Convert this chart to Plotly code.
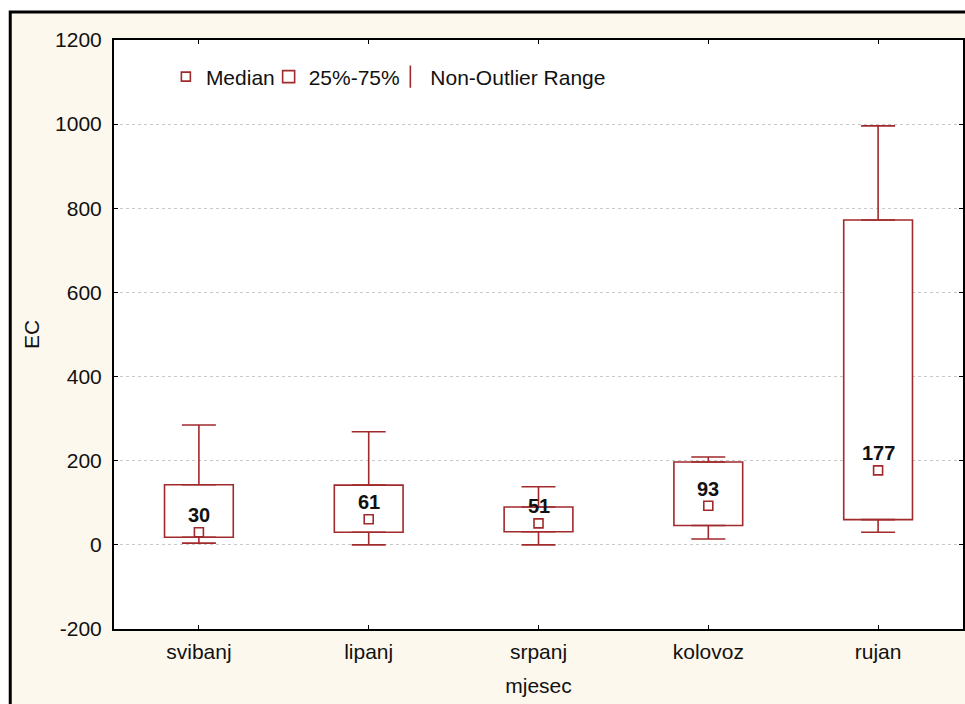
import plotly.graph_objects as go

# ---- data ----
months = ["svibanj", "lipanj", "srpanj", "kolovoz", "rujan"]
medians = [30, 61, 51, 93, 177]
q1 = [18, 30, 31, 46, 60]
q3 = [143, 142, 90, 197, 772]
whisk_low = [4, 0, 0, 14, 30]
whisk_high = [285, 269, 138, 209, 996]
y_ticks = [-200, 0, 200, 400, 600, 800, 1000, 1200]
y_tick_text = ["-200", "0", "200", "400", "600", "800", "1000", "1200"]

RED = "#A12A2C"
CREAM = "#FDF8EE"
FONT = "Arial, Liberation Sans, sans-serif"
TXT = "#111111"
FS = 21

box_height = [h - l for h, l in zip(q3, q1)]
up_err = [h - t for h, t in zip(whisk_high, q3)]
down_err = [b - l for b, l in zip(q1, whisk_low)]

fig = go.Figure()

# upper whiskers (from box top to upper non-outlier limit)
fig.add_trace(go.Scatter(
    x=months, y=q3, mode="markers",
    marker=dict(size=1, color="rgba(0,0,0,0)"),
    error_y=dict(type="data", symmetric=False, array=up_err,
                 arrayminus=[0] * len(months), color=RED, thickness=1.6, width=17),
    showlegend=False, hoverinfo="skip"))
# lower whiskers
fig.add_trace(go.Scatter(
    x=months, y=q1, mode="markers",
    marker=dict(size=1, color="rgba(0,0,0,0)"),
    error_y=dict(type="data", symmetric=False, array=[0] * len(months),
                 arrayminus=down_err, color=RED, thickness=1.6, width=17),
    showlegend=False, hoverinfo="skip"))

# boxes 25%-75%
fig.add_trace(go.Bar(
    x=months, y=box_height, base=q1, width=0.405,
    marker=dict(color="white", line=dict(color=RED, width=1.6)),
    name="25%-75%", legend="legend2"))

# medians
fig.add_trace(go.Scatter(
    x=months, y=medians, mode="markers",
    marker=dict(symbol="square-open", size=9, color=RED, line=dict(width=1.6)),
    name="Median", legend="legend"))

# legend-only entry for whiskers
fig.add_trace(go.Scatter(
    x=[None], y=[None], mode="markers",
    marker=dict(symbol="line-ns-open", size=16, color=RED, line=dict(width=1.6, color=RED)),
    name="Non-Outlier Range", legend="legend3"))

# median value labels
for m, v in zip(months, medians):
    fig.add_annotation(
        x=m, y=v, text=str(v), showarrow=False,
        xanchor="center", yanchor="bottom", yshift=4,
        font=dict(family=FONT, size=20, color=TXT, weight="bold"))

W, H = 965, 704
L, R, T, B = 114, 0, 40, 75
pw = W - L - R
ph = H - T - B


def legend_at(px_left):
    return dict(orientation="h", x=(px_left - L) / pw, xanchor="left",
                y=(H - B - 77) / ph, yanchor="middle",
                bgcolor="rgba(0,0,0,0)", font=dict(family=FONT, size=FS, color=TXT),
                itemwidth=30)


fig.update_layout(
    width=W, height=H,
    margin=dict(l=L, r=R, t=T, b=B, pad=0),
    paper_bgcolor="white", plot_bgcolor="white",
    font=dict(family=FONT, size=FS, color=TXT),
    barmode="overlay",
    showlegend=True,
    legend=legend_at(166),
    legend2=legend_at(269),
    legend3=legend_at(391),
    shapes=[
        # cream page with black frame
        dict(type="rect", xref="paper", yref="paper",
             x0=(10 - L) / pw, x1=1.2, y0=-0.3, y1=(H - B - 12) / ph,
             fillcolor=CREAM, line=dict(color="black", width=3), layer="below"),
        # white plot area
        dict(type="rect", xref="paper", yref="paper",
             x0=0, x1=1, y0=0, y1=1,
             fillcolor="white", line=dict(width=0), layer="below"),
    ],
)

fig.update_xaxes(
    type="category", range=[-0.5, 4.5],
    showline=True, linecolor="black", linewidth=2, mirror="ticks",
    ticks="inside", ticklen=4, tickcolor="black",
    showgrid=False, zeroline=False,
    ticklabelstandoff=3,
    tickfont=dict(family=FONT, size=FS, color=TXT),
    title=dict(text="mjesec", font=dict(family=FONT, size=FS, color=TXT), standoff=16),
)
fig.update_yaxes(
    range=[-200, 1200], tickvals=y_ticks, ticktext=y_tick_text,
    showline=True, linecolor="black", linewidth=2, mirror="ticks",
    ticks="inside", ticklen=4, tickcolor="black",
    showgrid=True, gridcolor="#C8C8C8", griddash="dot", gridwidth=1,
    zeroline=False,
    ticklabelstandoff=6,
    tickfont=dict(family=FONT, size=FS, color=TXT),
    title=dict(text="EC", font=dict(family=FONT, size=FS, color=TXT), standoff=10),
)

fig.write_html(
    "out.html",
    config={"displayModeBar": False},
    post_script="document.body.style.margin='0px';document.body.style.overflow='hidden';",
)
